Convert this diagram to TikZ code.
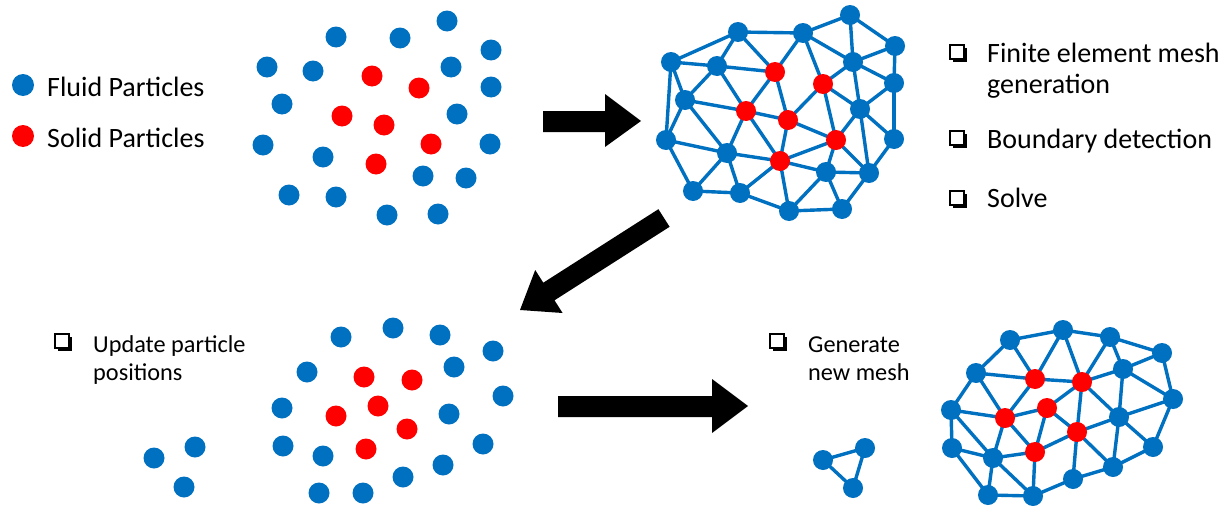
\documentclass[tikz,border=0pt]{standalone}
\usepackage{fontspec}
\setmainfont{Carlito}
\definecolor{pblue}{HTML}{0070C0}
\definecolor{pred}{HTML}{FF0000}
\pgfdeclarelayer{bg}
\pgfdeclarelayer{edges}
\pgfsetlayers{bg,edges,main}
\begin{document}
\begin{tikzpicture}[x=1pt,y=-1pt,
  fp/.style={circle,fill=pblue,minimum size=21pt,inner sep=0pt},
  sp/.style={circle,fill=pred,minimum size=21pt,inner sep=0pt},
  mb/.style={circle,fill=pblue,minimum size=20pt,inner sep=0pt},
  mr/.style={circle,fill=pred,minimum size=20pt,inner sep=0pt},
  edge/.style={draw=pblue,line width=3.4pt},
  bigtxt/.style={font=\fontsize{28}{32}\selectfont,anchor=base west,inner sep=0pt},
  smalltxt/.style={font=\fontsize{24.3}{28}\selectfont,anchor=base west,inner sep=0pt},
  blockarrow/.style={fill=black},
  chk/.pic={
    \fill[black] (3.5,3.5) rectangle (18,18);
    \filldraw[fill=white,draw=black,line width=2pt] (1,1) rectangle (14.5,14.5);
  }]
\useasboundingbox (0,0) rectangle (1229,506);
\begin{pgfonlayer}{bg}
\fill[white] (0,0) rectangle (1229,506);
\end{pgfonlayer}

% legend
\node[fp,minimum size=22pt] (legf) at (23,85) {};
\node[sp,minimum size=22pt] (legs) at (23,136) {};
\node[bigtxt] (legft) at (47,96) {Fluid Particles};
\node[bigtxt] (legst) at (47,147) {Solid Particles};

% top particle cloud
\foreach \n/\x/\y in {a1/447/21,a2/336/37,a3/400/38,a4/491/50,a5/267/67,a6/313/71,a7/451/67,a8/491/87,a9/282/104,a10/457/114,a11/263/145,a12/490/144,a13/323/157,a14/423/176,a15/466/178,a16/289/195,a17/336/197,a18/387/215,a19/438/214}
  \node[fp] (\n) at (\x,\y) {};
\foreach \n/\x/\y in {ar1/372/76,ar2/419/88,ar3/342/116,ar4/384/125,ar5/431/144,ar6/376/164}
  \node[sp] (\n) at (\x,\y) {};

% bottom particle cloud
\foreach \n/\x/\y in {c1/341/337,c2/393/328,c3/440/335,c4/493/351,c5/307/372,c6/454/367,c7/503/396,c8/282/408,c9/449/414,c10/283/446,c11/323/456,c12/483/444,c13/443/465,c14/403/477,c15/319/493,c16/363/493,c17/154/458,c18/195/447,c19/184/487}
  \node[fp] (\n) at (\x,\y) {};
\foreach \n/\x/\y in {cr1/364/377,cr2/412/380,cr3/378/406,cr4/336/416,cr5/407/429,cr6/366/449}
  \node[sp] (\n) at (\x,\y) {};

% top mesh nodes
\foreach \n/\x/\y in {tA/738/32,tB/803/33,tC/850/15,tD/895/46,tE/671/62,tF/717/66,tG/853/62,tH/894/83,tI/685/100,tJ/860/109,tK/666/140,tL/727/153,tM/894/139,tN/826/172,tO/869/173,tP/693/191,tQ/740/193,tS/789/211,tT/842/209}
  \node[mb] (\n) at (\x,\y) {};
\foreach \n/\x/\y in {tR1/775/72,tR2/823/84,tR3/746/111,tR4/788/120,tR5/836/140,tR6/780/161}
  \node[mr] (\n) at (\x,\y) {};
\begin{pgfonlayer}{edges}
\foreach \a/\b in {tE/tA,tA/tB,tB/tC,tC/tD,tC/tG,tD/tG,tD/tH,tA/tF,tA/tR1,tB/tR1,tB/tR2,tB/tG,tG/tR2,tG/tH,tG/tJ,tH/tJ,tH/tM,tJ/tM,tJ/tR2,tJ/tR5,tJ/tO,tM/tO,tR2/tR4,tR2/tR5,tE/tF,tE/tI,tE/tK,tF/tR1,tF/tI,tF/tR3,tI/tR3,tI/tK,tI/tL,tR1/tR3,tR1/tR4,tR3/tR4,tR3/tL,tR3/tR6,tR4/tR6,tR4/tR5,tR5/tR6,tR5/tN,tR5/tO,tK/tL,tK/tP,tL/tP,tL/tQ,tL/tR6,tP/tQ,tQ/tR6,tQ/tS,tR6/tS,tR6/tN,tN/tO,tN/tS,tN/tT,tS/tT,tO/tT}
  \draw[edge] (\a.center) -- (\b.center);
\end{pgfonlayer}

% bottom mesh nodes
\foreach \n/\x/\y in {ba/1010/340,bb/1063/330,bc/1110/337,bd/1162/353,be/976/373,bf/1123/369,bg/1173/399,bh/951/410,bi/1119/417,bj/952/448,bk/993/458,bl/1153/447,bm/1113/467,bn/1073/479,bo/988/495,bp/1033/496}
  \node[mb] (\n) at (\x,\y) {};
\foreach \n/\x/\y in {br1/1035/379,br2/1082/382,br3/1047/408,br4/1005/418,br5/1077/432,br6/1035/452}
  \node[mr] (\n) at (\x,\y) {};
\begin{pgfonlayer}{edges}
\foreach \a/\b in {ba/bb,bb/bc,bc/bd,bd/bg,bg/bl,bl/bm,bm/bn,bn/bp,bp/bo,bo/bj,bj/bh,bh/be,be/ba,ba/br1,bb/br1,bb/br2,bc/br2,bc/bf,bd/bf,bf/br2,bf/bi,bf/bg,bg/bi,bi/bl,bi/bm,bi/br2,bi/br5,be/br1,be/br4,bh/br4,bh/bk,bj/bk,bk/br4,bk/bo,bk/bp,bk/br6,br1/br2,br1/br4,br4/br3,br4/br6,br3/br2,br3/br5,br3/br6,br2/br5,br5/bn,br5/bm,br6/bp,br6/br5}
  \draw[edge] (\a.center) -- (\b.center);
\end{pgfonlayer}

% small triangle mesh
\node[mb] (q1) at (823,460) {};
\node[mb] (q2) at (865,448) {};
\node[mb] (q3) at (853,488) {};
\begin{pgfonlayer}{edges}
\draw[edge] (q1.center) -- (q2.center) -- (q3.center) -- cycle;
\end{pgfonlayer}

% block arrows
\fill[blockarrow] (543,111) -- (605,111) -- (605,94) -- (641,121) -- (605,147) -- (605,132) -- (543,132) -- cycle;
\fill[blockarrow] (658.4,209.2) -- (669.6,226.8) -- (554.5,300.3) -- (562.6,313) -- (520,310) -- (535.2,270) -- (543.3,282.7) -- cycle;
\fill[blockarrow] (558,396) -- (712,396) -- (712,379) -- (748,406) -- (712,433) -- (712,417) -- (558,417) -- cycle;

% checklists
\pic at (949,44) {chk};
\pic at (949,130) {chk};
\pic at (949,190) {chk};
\node[bigtxt] (t1) at (987,62) {Finite element mesh};
\node[bigtxt] (t2) at (987,93) {generation};
\node[bigtxt] (t3) at (987,148) {Boundary detection};
\node[bigtxt] (t4) at (987,207) {Solve};

\pic at (54,333) {chk};
\node[smalltxt] (u1) at (93,352) {Update particle};
\node[smalltxt] (u2) at (93,380) {positions};

\pic at (769,333) {chk};
\node[smalltxt] (g1) at (808,352) {Generate};
\node[smalltxt] (g2) at (808,380) {new mesh};
\end{tikzpicture}
\end{document}
